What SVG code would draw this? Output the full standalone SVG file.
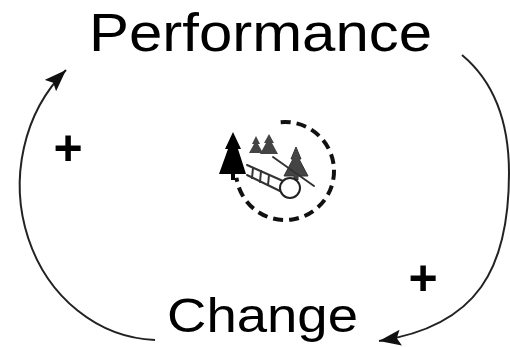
<svg xmlns="http://www.w3.org/2000/svg" width="510" height="347" viewBox="0 0 510 347">
  <style>
    .label { font-family: "Liberation Sans", Arial, sans-serif; fill: #000; }
    .sign { font-family: "Liberation Sans", Arial, sans-serif; font-weight: bold; font-size: 50px; fill: #000; text-anchor: middle; }
    .link { fill: none; stroke: #222; stroke-width: 2; }
    .icon-line { fill: none; stroke: #333; stroke-width: 2; stroke-linecap: round; }
  </style>
  <defs>
    <marker id="arrow" markerUnits="userSpaceOnUse" markerWidth="26" markerHeight="18" refX="22" refY="8" orient="auto">
      <path d="M0,0 L22,8 L0,16 L4,8 z" fill="#111"/>
    </marker>
  </defs>

  <rect width="510" height="347" fill="#fff"/>

  <!-- feedback connectors -->
  <g id="connectors">
    <path class="link" d="M155,340 A140,155 0 0 1 66,70" marker-end="url(#arrow)"/>
    <path class="link" d="M462,55 C498,85 509,130 509,173 C509,268 478,326 379,341" marker-end="url(#arrow)"/>
  </g>

  <!-- polarity signs -->
  <g id="signs">
    <text class="sign" x="68" y="165">+</text>
    <text class="sign" x="423" y="295">+</text>
  </g>

  <g id="performance">
    <text class="label" x="89" y="51" font-size="54" textLength="343" lengthAdjust="spacingAndGlyphs">Performance</text>
  </g>

  <g id="change">
    <text class="label" x="167" y="332" font-size="48" textLength="191" lengthAdjust="spacingAndGlyphs">Change</text>
  </g>

  <!-- reinforcing loop symbol: snowball rolling downhill -->
  <g id="loop-icon">
    <path d="M280.7,122.2 A49,49 0 1 1 236.5,177.8" fill="none" stroke="#111" stroke-width="4" stroke-dasharray="10 6"/>
    <!-- tree as arrowhead -->
    <polygon fill="#000" points="233,132 241,149 238,149 246,174 235,174 235,180 231,180 231,174 219,174 228,149 225,149"/>
    <!-- small trees on the hilltop -->
    <polygon fill="#444" points="256,136 260,144 258,144 263,153 249,153 254,144 252,144"/>
    <polygon fill="#444" points="269,134 274,143 272,143 278,154 260,154 266,143 264,143"/>
    <!-- tree on the slope -->
    <polygon fill="#444" stroke="#333" stroke-width="1" points="296,147 301,159 299,159 308,176 298,176 298,180 294,180 294,176 284,176 293,159 291,159"/>
    <!-- slope -->
    <line class="icon-line" x1="273" y1="157" x2="314" y2="186"/>
    <!-- trail -->
    <line class="icon-line" x1="247" y1="165" x2="283" y2="181"/>
    <line class="icon-line" x1="247" y1="175" x2="280" y2="191"/>
    <line class="icon-line" x1="253" y1="168" x2="252" y2="178"/>
    <line class="icon-line" x1="261" y1="171" x2="260" y2="182"/>
    <line class="icon-line" x1="269" y1="175" x2="268" y2="185"/>
    <!-- snowball -->
    <circle cx="290" cy="188" r="10" fill="#fff" stroke="#222" stroke-width="2"/>
  </g>
</svg>
